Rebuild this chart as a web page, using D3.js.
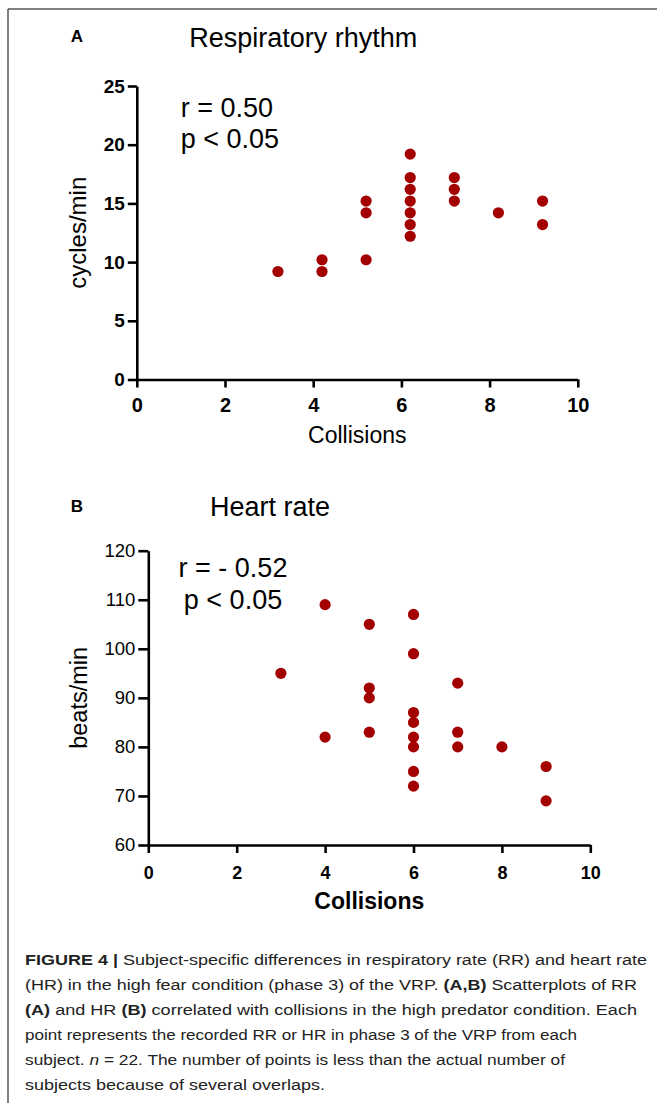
<!DOCTYPE html>
<meta charset="utf-8">
<style>
    body { margin: 0; background: #fff; }
    svg { display: block; font-family: "Liberation Sans", Arial, sans-serif; }
    .axis path,
    .axis line {
        fill: none;
        stroke: #000;
        stroke-width: 2.6px;
    }
    .axis text { fill: #000; font-family: "Liberation Sans", Arial, sans-serif; }
    .dot { fill: #a30000; }
    .caption { font-size: 15.5px; fill: #222; }
</style>
<svg width="657" height="1103"></svg>
<script src="https://cdn.jsdelivr.net/npm/d3@7"></script>
<script>
    // panel A: respiratory rhythm vs collisions
    var rrCollisions = [3.2, 4.2, 4.2, 5.2, 5.2, 5.2, 6.2, 6.2, 6.2, 6.2, 6.2, 6.2, 6.2, 7.2, 7.2, 7.2, 8.2, 9.2, 9.2];
    var rrValues = [9.2, 10.2, 9.2, 15.2, 14.2, 10.2, 19.2, 17.2, 16.2, 15.2, 14.2, 13.2, 12.2, 17.2, 16.2, 15.2, 14.2, 15.2, 13.2];

    // panel B: heart rate vs collisions
    var hrCollisions = [3, 4, 4, 5, 5, 5, 5, 6, 6, 6, 6, 6, 6, 6, 6, 7, 7, 7, 8, 9, 9];
    var hrValues = [95, 109, 82, 105, 92, 90, 83, 107, 99, 87, 85, 82, 80, 75, 72, 93, 83, 80, 80, 76, 69];

    var xTicks = [0, 2, 4, 6, 8, 10];
    var rrTicks = [0, 5, 10, 15, 20, 25];
    var hrTicks = [60, 70, 80, 90, 100, 110, 120];

    var captionLines = [
        [["FIGURE 4 | ", "b"], ["Subject-specific differences in respiratory rate (RR) and heart rate", ""]],
        [["(HR) in the high fear condition (phase 3) of the VRP. ", ""], ["(A,B)", "b"], [" Scatterplots of RR", ""]],
        [["(A)", "b"], [" and HR ", ""], ["(B)", "b"], [" correlated with collisions in the high predator condition. Each", ""]],
        [["point represents the recorded RR or HR in phase 3 of the VRP from each", ""]],
        [["subject. ", ""], ["n", "i"], [" = 22. The number of points is less than the actual number of", ""]],
        [["subjects because of several overlaps.", ""]]
    ];
    var captionEnds = [647, 637, 637, 577, 565, 325];

    var svg = d3.select("svg");

    // frame
    svg.append("line").attr("x1", 8).attr("x2", 657).attr("y1", 9).attr("y2", 9)
        .attr("stroke", "#555").attr("stroke-width", 1.5);
    svg.append("line").attr("x1", 8).attr("x2", 8).attr("y1", 9).attr("y2", 1103)
        .attr("stroke", "#555").attr("stroke-width", 1.5);

    function panel(p) {
        var x = d3.scaleLinear().domain([0, 10]).range(p.xRange),
            y = d3.scaleLinear().domain(p.yDomain).range(p.yRange);

        svg.append("text").attr("x", 70.7).attr("y", p.letterY)
            .style("font-size", "17px").style("font-weight", "bold").text(p.letter);
        svg.append("text").attr("x", p.titleX).attr("y", p.titleY)
            .style("font-size", "27px").text(p.title);

        var gx = svg.append("g")
            .attr("class", "axis")
            .attr("transform", "translate(0," + p.yRange[0] + ")")
            .call(d3.axisBottom(x).tickValues(xTicks).tickSize(8).tickSizeOuter(0).tickPadding(p.xPad));
        gx.selectAll("text").style("font-size", p.xFont + "px").style("font-weight", "bold");

        var gy = svg.append("g")
            .attr("class", "axis")
            .attr("transform", "translate(" + p.xRange[0] + ",0)")
            .call(d3.axisLeft(y).tickValues(p.yTicks).tickSize(p.yTick).tickSizeOuter(0).tickPadding(3));
        gy.selectAll("text").style("font-size", p.yFont + "px").style("font-weight", p.yWeight);

        svg.append("text")
            .attr("x", (p.xRange[0] + p.xRange[1]) / 2)
            .attr("y", p.xLabelY)
            .attr("text-anchor", "middle")
            .style("font-size", "23px")
            .style("font-weight", p.xLabelWeight)
            .text("Collisions");

        svg.append("text")
            .attr("transform", "translate(" + p.yLabelX + "," + (p.yRange[0] + p.yRange[1]) / 2 + ") rotate(-90)")
            .attr("text-anchor", "middle")
            .style("font-size", p.yLabelFont + "px")
            .text(p.yLabel);

        var stats = svg.append("text")
            .attr("text-anchor", p.statsAnchor)
            .style("font-size", "27px");
        stats.append("tspan").attr("x", p.statsX).attr("y", p.statsY[0]).text(p.stats[0]);
        stats.append("tspan").attr("x", p.statsX).attr("y", p.statsY[1]).text(p.stats[1]);

        svg.append("g").selectAll("circle")
            .data(p.xs)
            .enter().append("circle")
            .attr("class", "dot")
            .attr("cx", function(d) { return x(d); })
            .attr("cy", function(d, i) { return y(p.ys[i]); })
            .attr("r", 5.6);
    }

    panel({
        letter: "A", letterY: 42.3,
        title: "Respiratory rhythm", titleX: 189.3, titleY: 46.7,
        xRange: [136.8, 577.8], yRange: [379.5, 86],
        yDomain: [0, 25], yTicks: rrTicks,
        xPad: 10.5, xFont: 20, yFont: 19, yWeight: "bold", yTick: 9,
        xLabelY: 443.3, xLabelWeight: "normal",
        yLabel: "cycles/min", yLabelX: 86, yLabelFont: 24,
        stats: ["r = 0.50", "p < 0.05"], statsAnchor: "start", statsX: 180.7, statsY: [116.7, 148.3],
        xs: rrCollisions, ys: rrValues
    });

    panel({
        letter: "B", letterY: 511.7,
        title: "Heart rate", titleX: 210, titleY: 516,
        xRange: [148.3, 590.3], yRange: [845, 550.7],
        yDomain: [60, 120], yTicks: hrTicks,
        xPad: 13, xFont: 18, yFont: 18.5, yWeight: "normal", yTick: 10,
        xLabelY: 909.3, xLabelWeight: "bold",
        yLabel: "beats/min", yLabelX: 87, yLabelFont: 23.5,
        stats: ["r = - 0.52", "p < 0.05"], statsAnchor: "middle", statsX: 233, statsY: [577.3, 609],
        xs: hrCollisions, ys: hrValues
    });

    // caption
    captionLines.forEach(function(parts, i) {
        var t = svg.append("text")
            .attr("class", "caption")
            .attr("x", 25)
            .attr("y", 965 + i * 25)
            .attr("textLength", captionEnds[i] - 25)
            .attr("lengthAdjust", "spacingAndGlyphs");
        parts.forEach(function(s) {
            t.append("tspan")
                .style("font-weight", s[1] === "b" ? "bold" : "normal")
                .style("font-style", s[1] === "i" ? "italic" : "normal")
                .text(s[0]);
        });
    });
</script>
